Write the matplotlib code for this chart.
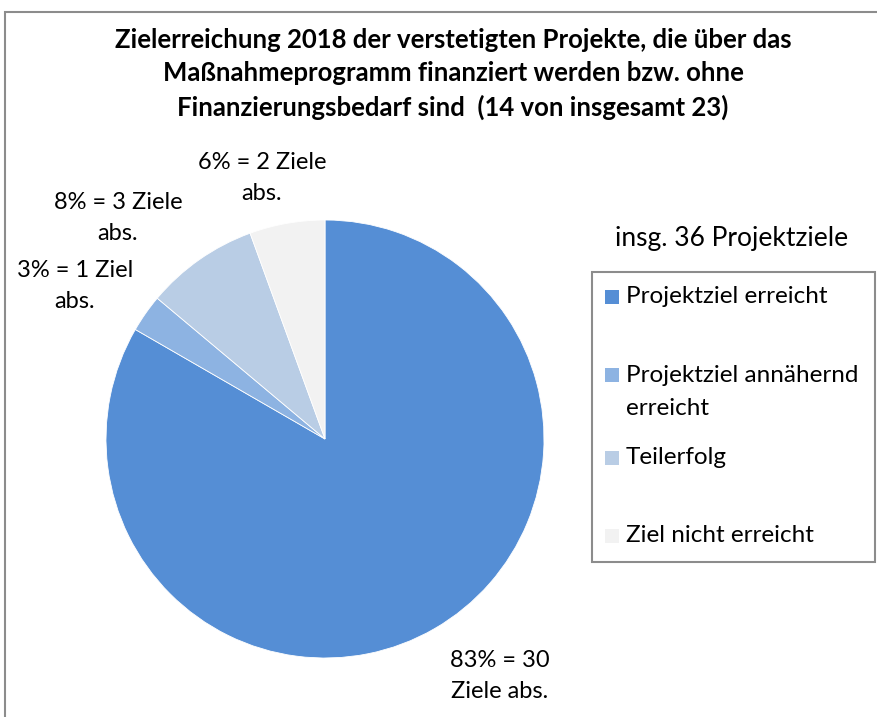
import matplotlib
matplotlib.use("Agg")
import matplotlib.pyplot as plt
from matplotlib.patches import Rectangle

plt.rcParams['font.family'] = ['Lato', 'DejaVu Sans']

categories = ["Projektziel erreicht", "Projektziel annähernd\nerreicht", "Teilerfolg", "Ziel nicht erreicht"]
values = [30, 1, 3, 2]
colors = ["#558ED5", "#8DB3E2", "#B9CDE5", "#F2F2F2"]
slice_labels = ["83% = 30\nZiele abs.", "3% = 1 Ziel\nabs.", "8% = 3 Ziele\nabs.", "6% = 2 Ziele\nabs."]
title = ("Zielerreichung 2018 der verstetigten Projekte, die über das\n"
         "Maßnahmeprogramm finanziert werden bzw. ohne\n"
         "Finanzierungsbedarf sind  (14 von insgesamt 23)")
legend_title = "insg. 36 Projektziele"

W, H = 878, 717
fig = plt.figure(figsize=(W / 100, H / 100), dpi=100)
ax = fig.add_axes([0, 0, 1, 1])

# outer frame
ax.add_patch(Rectangle((5, -10), W + 20, H - 12 + 10, fill=False, edgecolor="#8c8c8c", lw=1.5))

cx, cy, r = 325, H - 439, 219
ax.pie(values, colors=colors, startangle=90, counterclock=False, center=(cx, cy), radius=r,
       wedgeprops=dict(linewidth=0.6, edgecolor="white"), frame=False)
ax.set_xlim(0, W)
ax.set_ylim(0, H)
ax.set_aspect('equal')
ax.axis('off')

label_pos = [(500, H - 676), (75, H - 286), (118, H - 218), (262, H - 178)]
for (x, y), t in zip(label_pos, slice_labels):
    ax.text(x, y, t, ha='center', va='center', fontsize=17, linespacing=1.6, color="#000000")

ax.text(453, H - 74, title, ha='center', va='center', fontsize=18.5, fontweight='bold',
        linespacing=1.45, color="#000000")

ax.text(732, H - 239, legend_title, ha='center', va='center', fontsize=19, color="#000000")

# legend box
ax.add_patch(Rectangle((592, H - 562), 283, 290, fill=False, edgecolor="#8c8c8c", lw=1.5))
entry_y = [297, 392, 458, 536]
for yy, c, lab in zip(entry_y, colors, categories):
    sq_y = yy - 17 if '\n' in lab else yy
    ax.add_patch(Rectangle((605, H - sq_y - 7), 14, 14, facecolor=c, edgecolor='none'))
    ax.text(626, H - yy, lab, ha='left', va='center', fontsize=17.5, linespacing=1.7)

fig.savefig("out.png", dpi=100)
